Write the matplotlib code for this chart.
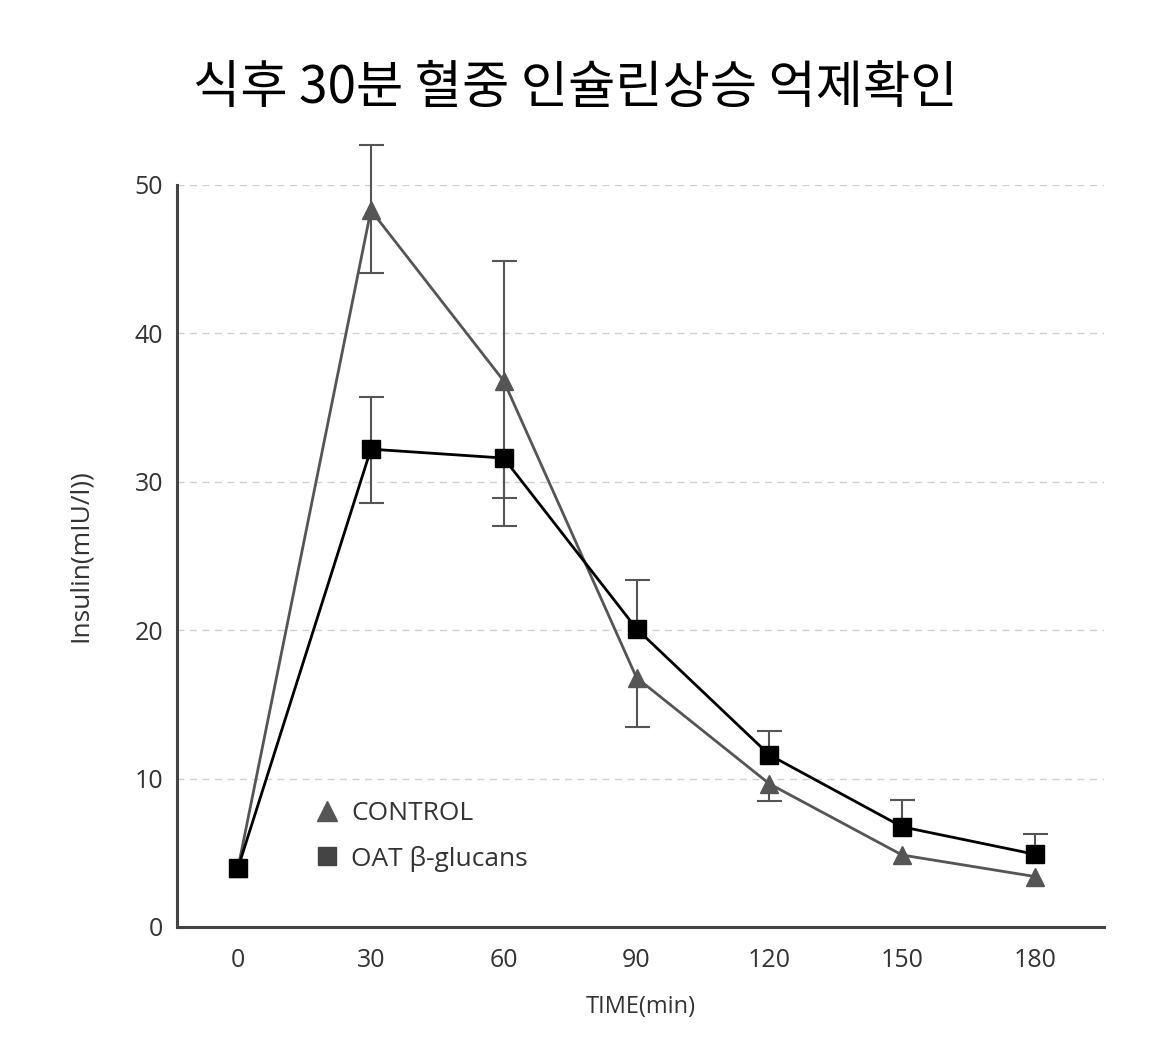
import matplotlib
matplotlib.use("Agg")
import matplotlib.pyplot as plt
from matplotlib.lines import Line2D

plt.rcParams['font.family'] = ['Noto Sans CJK KR', 'DejaVu Sans']

# data
time_min = [0, 30, 60, 90, 120, 150, 180]
control = [4.0, 48.3, 36.8, 16.8, 9.65, 4.85, 3.4]
control_err_up = [0, 4.4, 8.1, 0, 0, 0, 0]
control_err_dn = [0, 4.2, 7.9, 3.3, 1.15, 0, 0]
oat = [4.0, 32.2, 31.6, 20.1, 11.6, 6.75, 4.9]
oat_err_up = [0, 3.5, 0, 3.3, 1.6, 1.8, 1.4]
oat_err_dn = [0, 3.6, 4.6, 0, 0, 0, 0]
y_ticks = [0, 10, 20, 30, 40, 50]
title = "식후 30분 혈중 인슐린상승 억제확인"
legend_labels = ["CONTROL", "OAT β-glucans"]

gray = "#555555"
txt = "#333333"
latin = ["Open Sans", "DejaVu Sans"]

fig = plt.figure(figsize=(11.59, 10.39), dpi=100)
ax = fig.add_axes([177/1159, 1 - 927/1039, (1104-177)/1159, (927-185)/1039])


def bars(xs, ys, err, sign):
    # one-sided error bars, skipping the zero ones so no stray caps show
    px = [x for x, e in zip(xs, err) if e > 0]
    py = [y for y, e in zip(ys, err) if e > 0]
    pe = [e for e in err if e > 0]
    if not px:
        return
    yerr = [pe, [0]*len(pe)] if sign < 0 else [[0]*len(pe), pe]
    _, caps, _ = ax.errorbar(px, py, yerr=yerr, fmt="none", ecolor=gray, elinewidth=1.5,
                             capsize=9, capthick=1.5, zorder=2, clip_on=False)
    # drop the cap that sits on the point itself
    for c in caps:
        yd = c.get_ydata()
        if all(abs(a - b) < 1e-9 for a, b in zip(yd, py)):
            c.set_visible(False)


bars(time_min, control, control_err_up, +1)
bars(time_min, control, control_err_dn, -1)
bars(time_min, oat, oat_err_up, +1)
bars(time_min, oat, oat_err_dn, -1)

ax.plot(time_min, control, color=gray, marker="^", markersize=13, lw=2, zorder=3, clip_on=False)
ax.plot(time_min, oat, color="black", marker="s", markersize=13, lw=2, zorder=4, clip_on=False)

ax.set_xlim(-13.8, 195.6)
ax.set_ylim(0, 50)
ax.set_xticks(time_min)
ax.set_yticks(y_ticks)
ax.tick_params(length=0, labelsize=18, labelcolor=txt)
ax.tick_params(axis="y", pad=10)
ax.tick_params(axis="x", pad=15)
for t in ax.get_xticklabels() + ax.get_yticklabels():
    t.set_fontfamily(latin)

for s in ["top", "right"]:
    ax.spines[s].set_visible(False)
for s in ["left", "bottom"]:
    ax.spines[s].set_color("#444444")
    ax.spines[s].set_linewidth(2.2)

for yv in y_ticks[1:]:
    ax.axhline(yv, color="#d0d0d0", lw=1, ls=(0, (5, 4)), zorder=0)

ax.set_ylabel("Insulin(mIU/l))", fontsize=19, color=txt, labelpad=30, fontfamily=latin)
ax.set_xlabel("TIME(min)", fontsize=17, color=txt, labelpad=16, fontfamily=latin)

handles = [
    Line2D([], [], ls="none", marker="^", color=gray, markersize=14),
    Line2D([], [], ls="none", marker="s", color="#444444", markersize=13),
]
leg = ax.legend(handles, legend_labels, loc="upper left", bbox_to_anchor=(0.108, 0.202),
                frameon=False, handletextpad=-0.1, labelspacing=0.75,
                prop={"family": latin, "size": 19})
for t in leg.get_texts():
    t.set_color(txt)

fig.text(575/1159, 1 - 88/1039, title, fontsize=37, ha="center", va="center", color="black")

fig.savefig("out.png", dpi=100)
